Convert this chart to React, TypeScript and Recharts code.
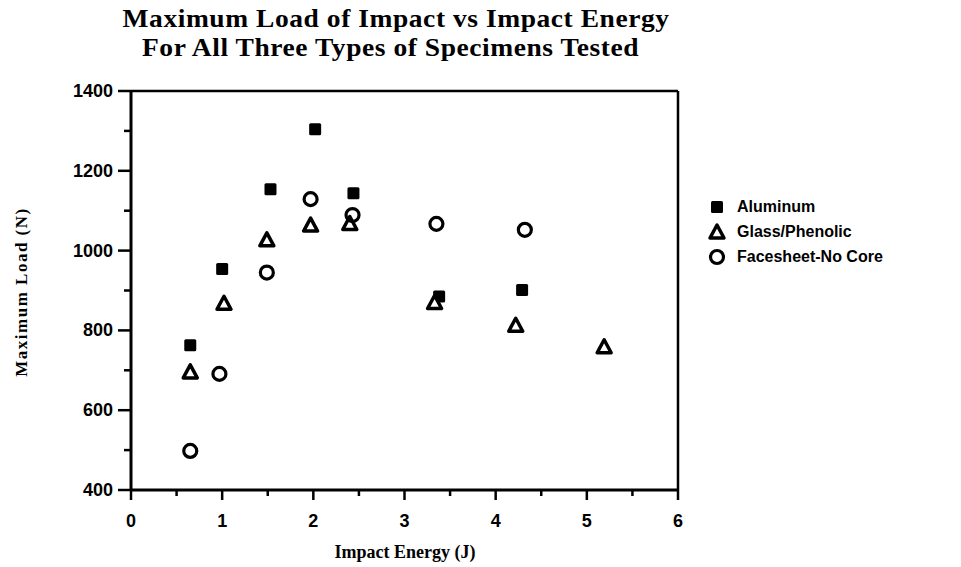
import React from 'react';
import { ScatterChart, Scatter, XAxis, YAxis, ReferenceLine } from 'recharts';

// Impact energy (J) vs maximum load (N)
const aluminumEnergy = [0.65, 1.0, 1.53, 2.02, 2.44, 3.38, 4.29];
const aluminumLoad = [763, 954, 1154, 1304, 1144, 885, 901];

const glassEnergy = [0.65, 1.02, 1.49, 1.97, 2.4, 3.33, 4.22, 5.19];
const glassLoad = [696, 868, 1027, 1064, 1068, 870, 813, 759];

const facesheetEnergy = [0.65, 0.97, 1.49, 1.97, 2.43, 3.35, 4.32];
const facesheetLoad = [498, 691, 945, 1129, 1089, 1067, 1052];

const xTicks = [0, 0.5, 1, 1.5, 2, 2.5, 3, 3.5, 4, 4.5, 5, 5.5, 6];
const yTicks = [400, 500, 600, 700, 800, 900, 1000, 1100, 1200, 1300, 1400];

const seriesNames = ['Aluminum', 'Glass/Phenolic', 'Facesheet-No Core'];

const toPoints = (xs: number[], ys: number[]) => xs.map((x, i) => ({ x, y: ys[i] }));

const aluminumData = toPoints(aluminumEnergy, aluminumLoad);
const glassData = toPoints(glassEnergy, glassLoad);
const facesheetData = toPoints(facesheetEnergy, facesheetLoad);

const serif = '"Liberation Serif", "DejaVu Serif", serif';
const sans = '"Liberation Sans", Arial, sans-serif';

const Square = ({ cx, cy }: any) => <rect x={cx - 6} y={cy - 6} width={12} height={12} rx={1.5} fill="#000" />;
const Triangle = ({ cx, cy }: any) => (
  <path d={`M${cx},${cy - 7} L${cx + 7},${cy + 6} L${cx - 7},${cy + 6} Z`} fill="#fff" stroke="#000" strokeWidth={3.5} strokeLinejoin="round" />
);
const Circle = ({ cx, cy }: any) => <circle cx={cx} cy={cy} r={6.5} fill="none" stroke="#000" strokeWidth={3.2} />;

const markers = [Square, Triangle, Circle];

const YTick = ({ x, y, payload }: any) => {
  const major = payload.value % 200 === 0;
  return (
    <g>
      <line x1={x} x2={x - (major ? 13 : 7)} y1={y} y2={y} stroke="#000" strokeWidth={2.5} />
      {major && (
        <text x={x - 18} y={y} dy={6} textAnchor="end" fontFamily={sans} fontWeight="bold" fontSize={18} fill="#000">
          {payload.value}
        </text>
      )}
    </g>
  );
};

const XTick = ({ x, y, payload }: any) => {
  const major = Number.isInteger(payload.value);
  return (
    <g>
      <line x1={x} x2={x} y1={y} y2={y + (major ? 10 : 6)} stroke="#000" strokeWidth={2.5} />
      {major && (
        <text x={x} y={y + 37} textAnchor="middle" fontFamily={sans} fontWeight="bold" fontSize={18} fill="#000">
          {payload.value}
        </text>
      )}
    </g>
  );
};

const LegendBox = () => (
  <div style={{ position: 'absolute', left: 707, top: 194, fontFamily: sans, fontWeight: 'bold', fontSize: 16, zIndex: 2 }}>
    {seriesNames.map((name, i) => {
      const M = markers[i];
      return (
        <div key={name} style={{ display: 'flex', alignItems: 'center', height: 25 }}>
          <svg width={22} height={20} style={{ marginRight: 8 }}>
            <M cx={10} cy={10} />
          </svg>
          <span>{name}</span>
        </div>
      );
    })}
  </div>
);

export default function App() {
  return (
    <div style={{ position: 'absolute', left: 0, top: 0, width: 961, height: 567, background: '#fff' }}>
      <div
        style={{
          position: 'absolute', left: 0, width: 800, top: 4, textAlign: 'center', fontFamily: serif, fontWeight: 'bold',
          fontSize: 25, lineHeight: '29px', letterSpacing: 0.5, transform: 'scaleX(1.1)', transformOrigin: '395px 0', zIndex: 2,
        }}
      >
        <div style={{ marginLeft: -8 }}>Maximum Load of Impact vs Impact Energy</div>
        <div style={{ marginLeft: -18 }}>For All Three Types of Specimens Tested</div>
      </div>
      <div
        style={{
          position: 'absolute', left: 22, top: 292, transform: 'translate(-50%, -50%) rotate(-90deg)',
          fontFamily: serif, fontWeight: 'bold', fontSize: 17, letterSpacing: 1.5, whiteSpace: 'nowrap', zIndex: 2,
        }}
      >
        Maximum Load (N)
      </div>
      <div
        style={{
          position: 'absolute', left: 405, top: 552, transform: 'translate(-50%, -50%)',
          fontFamily: serif, fontWeight: 'bold', fontSize: 18, whiteSpace: 'nowrap', zIndex: 2,
        }}
      >
        Impact Energy (J)
      </div>
      <LegendBox />
      <ScatterChart width={961} height={567} margin={{ top: 91, right: 283, left: 71, bottom: 17 }}>
        <XAxis
          type="number"
          dataKey="x"
          domain={[0, 6]}
          ticks={xTicks}
          interval={0}
          height={60}
          tickSize={0}
          tickMargin={0}
          tickLine={false}
          axisLine={{ stroke: '#000', strokeWidth: 3 }}
          tick={<XTick />}
        />
        <YAxis
          type="number"
          dataKey="y"
          domain={[400, 1400]}
          ticks={yTicks}
          interval={0}
          width={60}
          tickSize={0}
          tickMargin={0}
          tickLine={false}
          axisLine={{ stroke: '#000', strokeWidth: 3 }}
          tick={<YTick />}
        />
        <ReferenceLine y={1400} stroke="#000" strokeWidth={2.5} />
        <ReferenceLine x={6} stroke="#000" strokeWidth={2.5} />
        <Scatter name={seriesNames[0]} data={aluminumData} shape={<Square />} isAnimationActive={false} />
        <Scatter name={seriesNames[1]} data={glassData} shape={<Triangle />} isAnimationActive={false} />
        <Scatter name={seriesNames[2]} data={facesheetData} shape={<Circle />} isAnimationActive={false} />
      </ScatterChart>
    </div>
  );
}
